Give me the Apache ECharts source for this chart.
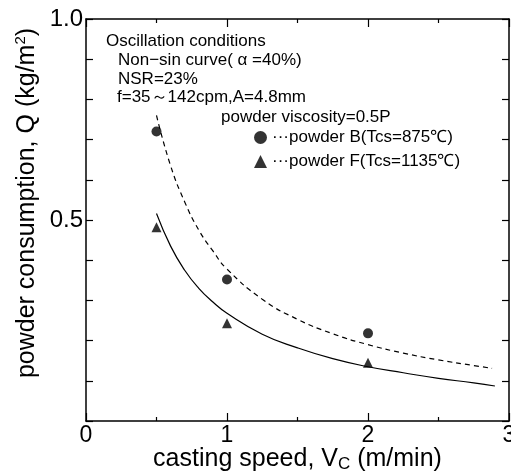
<!DOCTYPE html>
<html>
<head>
<meta charset="utf-8">
<script src="https://cdn.jsdelivr.net/npm/echarts@6/dist/echarts.min.js"></script>
<style>
html, body {
  margin: 0;
  padding: 0;
  background: #fff;
}
#chart {
  width: 511px;
  height: 473px;
}
</style>
</head>
<body>
<div id="chart"></div>
<script>
// measured points
var speedPts = [0.5, 1, 2];
var powderB = [0.72, 0.352, 0.218];
var powderF = [0.482, 0.243, 0.145];

// fitted curves
var curveSpeedB = [0.5, 0.6, 0.7, 0.8, 0.9, 1.0, 1.25, 1.5, 1.75, 2.0, 2.25, 2.5, 2.75, 2.88];
var curveB = [0.76, 0.635, 0.545, 0.475, 0.423, 0.378, 0.303, 0.253, 0.217, 0.19, 0.169, 0.152, 0.138, 0.131];
var curveSpeedF = [0.5, 0.6, 0.7, 0.8, 0.9, 1.0, 1.25, 1.5, 1.75, 2.0, 2.25, 2.5, 2.75, 2.9];
var curveF = [0.516, 0.435, 0.375, 0.33, 0.296, 0.268, 0.216, 0.182, 0.155, 0.135, 0.12, 0.106, 0.095, 0.087];

var yLabels = [0.5, 1.0];
var notes = [
  'Oscillation conditions',
  'Non\u2212sin curve( \u03b1 =40%)',
  'NSR=23%',
  'f=35\uff5e142cpm,A=4.8mm',
  'powder viscosity=0.5P'
];
var legendNames = ['powder B(Tcs=875\u2103)', 'powder F(Tcs=1135\u2103)'];

function zip(xs, ys) {
  return xs.map(function (x, i) { return [x, ys[i]]; });
}

var font = 'Liberation Sans, Arial, sans-serif';
var black = '#000';
var noteFont = '17px ' + font;
// onZero off, otherwise the top/right axes jump onto the zero lines
var axisLine = { onZero: false, lineStyle: { color: black, width: 1.5 } };

var chart = echarts.init(document.getElementById('chart'));
chart.setOption({
  animation: false,
  backgroundColor: '#fff',
  textStyle: { fontFamily: font, color: black },
  grid: { left: 86, right: 2, top: 19, bottom: 52, outerBoundsMode: 'none', containLabel: false },
  legend: {
    data: legendNames,
    orient: 'vertical',
    left: 254,
    top: 129,
    itemWidth: 13,
    itemHeight: 13,
    itemGap: 7,
    padding: 0,
    formatter: function (name) { return '\u00b7\u00b7\u00b7' + name; },
    textStyle: { fontSize: 17, color: black, fontFamily: font }
  },
  graphic: [
    { type: 'text', left: 106, top: 33, style: { text: notes[0], font: noteFont, fill: black } },
    { type: 'text', left: 118, top: 52, style: { text: notes[1], font: noteFont, fill: black } },
    { type: 'text', left: 118, top: 71, style: { text: notes[2], font: noteFont, fill: black } },
    { type: 'text', left: 117, top: 89, style: { text: notes[3], font: noteFont, fill: black } },
    { type: 'text', left: 221, top: 109, style: { text: notes[4], font: noteFont, fill: black } }
  ],
  xAxis: [
    {
      type: 'value',
      min: 0,
      max: 3,
      interval: 1,
      position: 'bottom',
      axisLine: axisLine,
      axisTick: { inside: true, length: 8, lineStyle: { color: black, width: 1.2 } },
      minorTick: { show: true, splitNumber: 2, length: 4, lineStyle: { color: black, width: 1.2 } },
      splitLine: { show: false },
      axisLabel: { fontSize: 23, color: black, margin: 3 },
      name: '{a|casting speed, V}{s|C}{a| (m/min)}',
      nameLocation: 'middle',
      nameGap: 24,
      nameMoveOverlap: false,
      nameTextStyle: {
        rich: {
          a: { fontSize: 25, lineHeight: 28, color: black, fontFamily: font },
          s: { fontSize: 17, lineHeight: 19, verticalAlign: 'bottom', color: black, fontFamily: font }
        }
      }
    },
    {
      type: 'value',
      min: 0,
      max: 3,
      interval: 1,
      position: 'top',
      axisLine: axisLine,
      axisTick: { inside: true, length: 8, lineStyle: { color: black, width: 1.2 } },
      minorTick: { show: true, splitNumber: 2, length: 4, lineStyle: { color: black, width: 1.2 } },
      splitLine: { show: false },
      axisLabel: { show: false }
    }
  ],
  yAxis: [
    {
      type: 'value',
      min: 0,
      max: 1,
      interval: 0.1,
      position: 'left',
      axisLine: axisLine,
      axisTick: { inside: true, length: 7, lineStyle: { color: black, width: 1.2 } },
      splitLine: { show: false },
      axisLabel: {
        fontSize: 24,
        color: black,
        margin: 3,
        formatter: function (v) {
          for (var i = 0; i < yLabels.length; i++) {
            if (Math.abs(v - yLabels[i]) < 1e-6) return yLabels[i].toFixed(1);
          }
          return '';
        }
      },
      name: '{a|powder consumption, Q (kg/m}{s|2}{a|)}',
      nameLocation: 'middle',
      nameGap: 45,
      nameMoveOverlap: false,
      nameTextStyle: {
        // label sits a bit above the axis middle in the original
        padding: [0, 0, 0, 34],
        rich: {
          a: { fontSize: 25, lineHeight: 28, color: black, fontFamily: font },
          s: { fontSize: 15, lineHeight: 15, verticalAlign: 'top', color: black, fontFamily: font }
        }
      }
    },
    {
      type: 'value',
      min: 0,
      max: 1,
      interval: 0.1,
      position: 'right',
      axisLine: axisLine,
      axisTick: { inside: true, length: 7, lineStyle: { color: black, width: 1.2 } },
      splitLine: { show: false },
      axisLabel: { show: false }
    }
  ],
  series: [
    {
      type: 'line',
      data: zip(curveSpeedB, curveB),
      smooth: true,
      symbol: 'none',
      silent: true,
      lineStyle: { color: black, width: 1.2, type: [5, 4] }
    },
    {
      type: 'line',
      data: zip(curveSpeedF, curveF),
      smooth: true,
      symbol: 'none',
      silent: true,
      lineStyle: { color: black, width: 1.2 }
    },
    {
      name: legendNames[0],
      type: 'scatter',
      data: zip(speedPts, powderB),
      symbol: 'circle',
      symbolSize: 10,
      itemStyle: { color: black }
    },
    {
      name: legendNames[1],
      type: 'scatter',
      data: zip(speedPts, powderF),
      symbol: 'triangle',
      symbolSize: 10,
      itemStyle: { color: black }
    }
  ]
});
</script>
</body>
</html>
